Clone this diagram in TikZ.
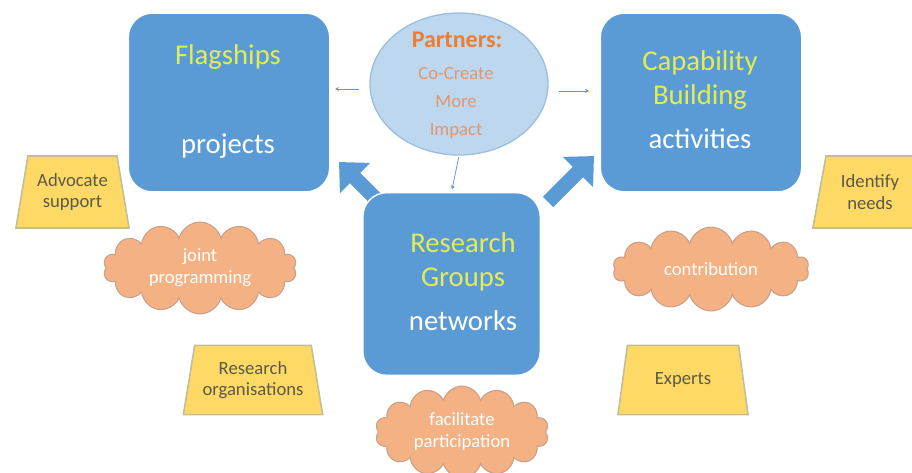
\documentclass[tikz,border=0pt]{standalone}
\usepackage{fontspec}
\setmainfont{Carlito}
\usetikzlibrary{shapes.geometric,shapes.symbols,arrows.meta}

\definecolor{boxblue}{RGB}{91,155,213}
\definecolor{ovalblue}{RGB}{189,215,238}
\definecolor{ovalline}{RGB}{157,190,225}
\definecolor{ttlyellow}{RGB}{226,236,84}
\definecolor{prtorange}{RGB}{237,125,49}
\definecolor{cocolor}{RGB}{226,150,110}
\definecolor{cloudfill}{RGB}{244,177,131}
\definecolor{cloudline}{RGB}{200,160,140}
\definecolor{tagfill}{RGB}{255,217,102}
\definecolor{tagline}{RGB}{196,190,150}
\definecolor{tagtext}{RGB}{90,90,70}

\tikzset{
  mainbox/.style={fill=boxblue, draw=white, line width=1pt, rounded corners=18pt, minimum width=151pt, minimum height=134pt},
  ttl/.style={text=ttlyellow, align=center, font=\fontsize{21.5}{25.5}\selectfont},
  sub/.style={text=white, font=\fontsize{21.5}{25.5}\selectfont},
  tagbox/.style={trapezium, trapezium stretches=true, trapezium left angle=77, trapezium right angle=77,
    fill=tagfill, draw=tagline, line width=1.2pt, text=tagtext, align=center,
    font=\fontsize{14}{16}\selectfont},
  puff/.style={cloud, cloud puffs=14, aspect=2.4, fill=cloudfill, draw=cloudline, line width=0.8pt,
    text=white, align=center, font=\fontsize{14}{16.5}\selectfont},
  thinarrow/.style={draw=boxblue, line width=0.6pt, -{Stealth[length=3pt,width=3pt]}},
  blockarrow/.style={draw=boxblue, line width=11pt, -{Triangle[width=31pt,length=17pt]}}
}

\begin{document}
\begin{tikzpicture}[x=0.75pt,y=0.75pt,yscale=-1,xscale=1]
\useasboundingbox (0,0) rectangle (912,472);

% big arrows (under the boxes)
\coordinate (la) at (386,209);
\coordinate (lt) at (339,162);
\coordinate (ra) at (548,202);
\coordinate (rt) at (594,156);
\draw[blockarrow] (la) -- (lt);
\draw[blockarrow] (ra) -- (rt);

% main boxes
\node[mainbox] (flag) at (229,102.5) {};
\node[mainbox] (capa) at (701,102.5) {};
\node[mainbox, minimum width=133pt, minimum height=137pt] (resg) at (451.5,284) {};

\node[ttl] (flagT) at (228,57) {Flagships};
\node[sub] (flagS) at (228,146) {projects};
\node[ttl] (capaT) at (700,80) {Capability\\Building};
\node[sub] (capaS) at (700,139) {activities};
\node[ttl] (resgT) at (463,262) {Research\\Groups};
\node[sub] (resgS) at (463,321) {networks};

% partners
\node[ellipse, fill=ovalblue, draw=ovalline, line width=1pt, minimum width=133.5pt, minimum height=106.5pt] (part) at (459,84) {};
\node[text=prtorange, font=\bfseries\fontsize{18}{20}\selectfont] (partT) at (457,40) {Partners:};
\node[text=cocolor, align=center, font=\fontsize{14}{21}\selectfont] (partS) at (456,103) {Co-Create\\More\\Impact};

\draw[thinarrow] (part.west) ++(-10,5) -- (335,89);
\draw[thinarrow] (part.east) ++(10,7) -- (589,91);
\draw[thinarrow, shorten <=1pt, shorten >=2pt] (part.south) -- (resg.north);

% tags
\node[tagbox, minimum width=85pt, minimum height=54pt] (advo) at (72.5,192) {Advocate\\support};
\node[tagbox, minimum width=86pt, minimum height=54pt] (iden) at (870,192) {Identify\\needs};
\node[tagbox, minimum width=105pt, minimum height=52pt] (reso) at (253,380) {Research\\organisations};
\node[tagbox, minimum width=98pt, minimum height=52pt] (expe) at (683,380) {Experts};

% clouds
\node[puff, minimum width=145pt, minimum height=60pt] (joint) at (200,268) {joint\\programming};
\node[puff, minimum width=147pt, minimum height=61pt] (contr) at (711,269) {contribution};
\node[puff, minimum width=130pt, minimum height=60pt] (facil) at (462,432) {facilitate\\participation};

\end{tikzpicture}
\end{document}
